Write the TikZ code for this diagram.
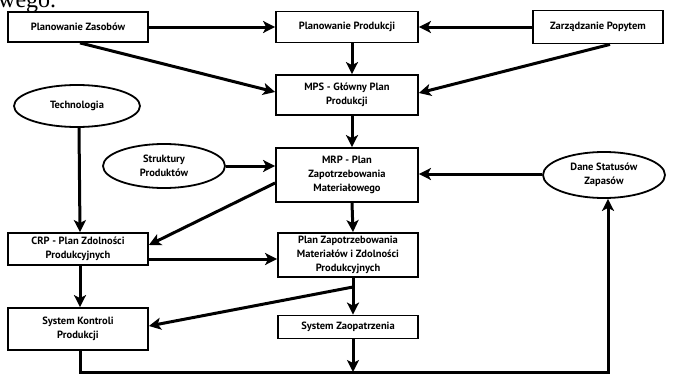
\documentclass[tikz,border=0pt]{standalone}
\usepackage{fontspec}
\setmainfont{PT Sans}
\newfontfamily\pageserif{Liberation Serif}
\usetikzlibrary{arrows.meta,shapes.geometric,calc}
\begin{document}
\begin{tikzpicture}[x=1pt,y=-1pt,
  box/.style={draw=black,line width=1.8pt,align=center,inner sep=2pt,
    font=\bfseries\fontsize{10.5}{14}\selectfont,rectangle},
  oval/.style={draw=black,line width=1.8pt,ellipse,align=center,inner sep=0pt,
    font=\bfseries\fontsize{10.5}{14}\selectfont},
  arr/.style={line width=3pt,-{Stealth[length=12pt,width=12pt,inset=3pt]}}]
\useasboundingbox (0,0) rectangle (673,380);
\fill[white] (0,0) rectangle (673,380);
\node[anchor=base west,font=\pageserif\fontsize{24}{24}\selectfont,inner sep=0pt] (pg) at (-2,8) {wego.};
% boxes
\node[box,minimum width=140pt,minimum height=30pt] (pz) at (78,27) {Planowanie Zasobów};
\node[box,minimum width=142pt,minimum height=31pt] (pp) at (347,27) {Planowanie Produkcji};
\node[box,minimum width=130pt,minimum height=33pt] (zp) at (598,27) {Zarządzanie Popytem};
\node[box,minimum width=142pt,minimum height=40pt] (mps) at (347,95) {MPS - Główny Plan\\Produkcji};
\node[box,minimum width=142pt,minimum height=54pt] (mrp) at (347,175) {MRP - Plan\\Zapotrzebowania\\Materiałowego};
\node[box,minimum width=140pt,minimum height=44pt] (pzm) at (348,255) {Plan Zapotrzebowania\\Materiałów i Zdolności\\Produkcyjnych};
\node[box,minimum width=140pt,minimum height=23pt] (sz) at (348,327) {System Zaopatrzenia};
\node[box,minimum width=140pt,minimum height=32pt] (crp) at (78,249) {CRP - Plan Zdolności\\Produkcyjnych};
\node[box,minimum width=140pt,minimum height=42pt] (skp) at (78,329) {System Kontroli\\Produkcji};
% ellipses
\node[oval,minimum width=126pt,minimum height=42pt] (tech) at (77,106) {Technologia};
\node[oval,minimum width=122pt,minimum height=44pt] (str) at (164,166) {Struktury\\Produktów};
\node[oval,minimum width=122pt,minimum height=46pt] (dss) at (604,175) {Dane Statusów\\Zapasów};
% helper coordinates
\coordinate (j) at (353,287);
\coordinate (sb) at (353,372);
\coordinate (bl) at (80,372);
\coordinate (br) at (608,372);
% connectors
\draw[arr] (pz.east) -- (pp.west);
\draw[arr] (zp.west) -- (pp.east);
\draw[arr] ([xshift=2pt]pz.south) -- ([yshift=3pt]mps.west);
\draw[arr] ([xshift=12pt]zp.south) -- ([yshift=2pt]mps.east);
\draw[arr] ([xshift=5pt]pp.south) -- ([xshift=5pt]mps.north);
\draw[arr] ([xshift=5pt]mps.south) -- ([xshift=5pt]mrp.north);
\draw[arr] (str.east) -- (str.east -| mrp.west);
\draw[arr] ([yshift=1pt]dss.west) -- ([yshift=1pt]dss.west -| mrp.east);
\draw[arr] ([xshift=5pt]mrp.south) -- ([xshift=5pt]pzm.north);
\draw[arr] ([yshift=-8pt]mrp.west) -- ([yshift=4pt]crp.east);
\draw[arr] ([xshift=2pt]tech.south) -- ([xshift=2pt]crp.north);
\draw[arr] ([yshift=-10pt]crp.east) -- ([yshift=-10pt]crp.east -| pzm.west);
\draw[arr] ([xshift=2pt]crp.south) -- ([xshift=2pt]skp.north);
\draw[arr] ([xshift=5pt]pzm.south) -- ([xshift=5pt]sz.north);
\draw[arr] (j) -- ([yshift=3pt]skp.east);
\draw[arr] ([xshift=5pt]sz.south) -- (sb);
\draw[arr] ([xshift=2pt]skp.south) -- (bl) -- (br) -- (br |- dss.south);
\end{tikzpicture}
\end{document}
